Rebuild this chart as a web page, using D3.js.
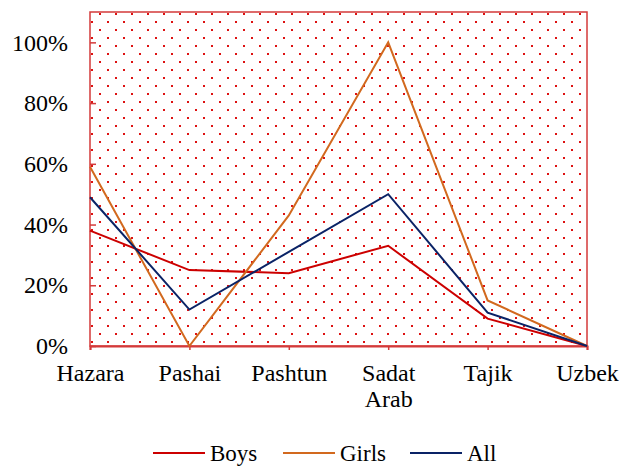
<!DOCTYPE html>
<html>
<head>
<meta charset="utf-8">
<script src="https://cdn.jsdelivr.net/npm/d3@7/dist/d3.min.js"></script>
</head>
<body style="margin:0;background:#fff">
<svg id="chart" width="619" height="466"></svg>
<script>
// Chart data
var groups = ["Hazara", "Pashai", "Pashtun", "Sadat Arab", "Tajik", "Uzbek"];
var boys  = [38, 25, 24, 33, 9, 0];
var girls = [59, 0, 43, 100, 15, 0];
var all   = [49, 12, 31, 50, 11, 0];
var seriesNames = ["Boys", "Girls", "All"];
var seriesColors = ["#cc0000", "#d2691e", "#0a2366"];
var yTicks = [0, 20, 40, 60, 80, 100];

var FONT = "Liberation Serif";

var svg = d3.select("#chart");
var margin = {left: 90, top: 12, right: 32, bottom: 120};
var width = 619 - margin.left - margin.right;
var height = 466 - margin.top - margin.bottom;

var x = d3.scalePoint().domain(groups).range([0, width]);
var y = d3.scaleLinear().domain([0, 110]).range([height, 0]);

// dotted background pattern
var defs = svg.append("defs");
var pat = defs.append("pattern")
    .attr("id", "dots")
    .attr("patternUnits", "userSpaceOnUse")
    .attr("x", 0).attr("y", 0)
    .attr("width", 16).attr("height", 16);
pat.append("rect").attr("x", 3).attr("y", 13).attr("width", 2).attr("height", 2).attr("fill", "#dd1111");
pat.append("rect").attr("x", 11).attr("y", 5).attr("width", 2).attr("height", 2).attr("fill", "#dd1111");

// plot area (pattern is in page coords)
svg.append("rect")
    .attr("x", margin.left).attr("y", margin.top)
    .attr("width", width).attr("height", height)
    .attr("fill", "url(#dots)");

var g = svg.append("g").attr("transform", "translate(" + margin.left + "," + margin.top + ")");

g.append("rect")
    .attr("width", width).attr("height", height)
    .attr("fill", "none")
    .attr("stroke", "#d43a3a")
    .attr("stroke-width", 1.5);

// y axis
var yAxis = g.append("g")
    .call(d3.axisLeft(y).tickValues(yTicks).tickSize(-6).tickPadding(22)
        .tickFormat(function(d) { return d + "%"; }));
yAxis.attr("font-family", FONT).attr("font-size", 24);
yAxis.select(".domain").remove();
yAxis.selectAll(".tick line").attr("stroke", "#d43a3a").attr("stroke-width", 1.5);
yAxis.selectAll(".tick text")
    .attr("fill", "#000")
    .attr("font-family", FONT)
    .attr("font-size", 24);

// x axis
var xAxis = g.append("g")
    .attr("transform", "translate(0," + height + ")")
    .call(d3.axisBottom(x).tickSize(4).tickFormat(""));
xAxis.attr("font-family", FONT).attr("font-size", 24);
xAxis.select(".domain").attr("stroke", "#d43a3a").attr("stroke-width", 2);
xAxis.selectAll(".tick line").attr("stroke", "#d43a3a").attr("stroke-width", 1.5);

xAxis.selectAll(".tick").each(function(d) {
    var tick = d3.select(this);
    d.split(" ").forEach(function(w, i) {
        tick.append("text")
            .attr("x", 0).attr("y", 35 + i * 26)
            .attr("text-anchor", "middle")
            .attr("fill", "#000")
            .attr("font-family", FONT)
            .attr("font-size", 24)
            .text(w);
    });
});

// lines
var data = [boys, girls, all];
var line = d3.line()
    .x(function(d, i) { return x(groups[i]); })
    .y(function(d) { return y(d); });

data.forEach(function(s, i) {
    g.append("path")
        .datum(s)
        .attr("fill", "none")
        .attr("stroke", seriesColors[i])
        .attr("stroke-width", 2)
        .attr("d", line);
});

// legend
var legend = svg.append("g").attr("transform", "translate(153,453)");
var offsets = [0, 130, 257];
seriesNames.forEach(function(n, i) {
    var lg = legend.append("g").attr("transform", "translate(" + offsets[i] + ",0)");
    lg.append("line").attr("x1", 0).attr("x2", 52).attr("y1", 0).attr("y2", 0)
        .attr("stroke", seriesColors[i]).attr("stroke-width", 2);
    lg.append("text").attr("x", 57).attr("y", 8)
        .attr("font-family", FONT).attr("font-size", 23)
        .text(n);
});
</script>
</body>
</html>
